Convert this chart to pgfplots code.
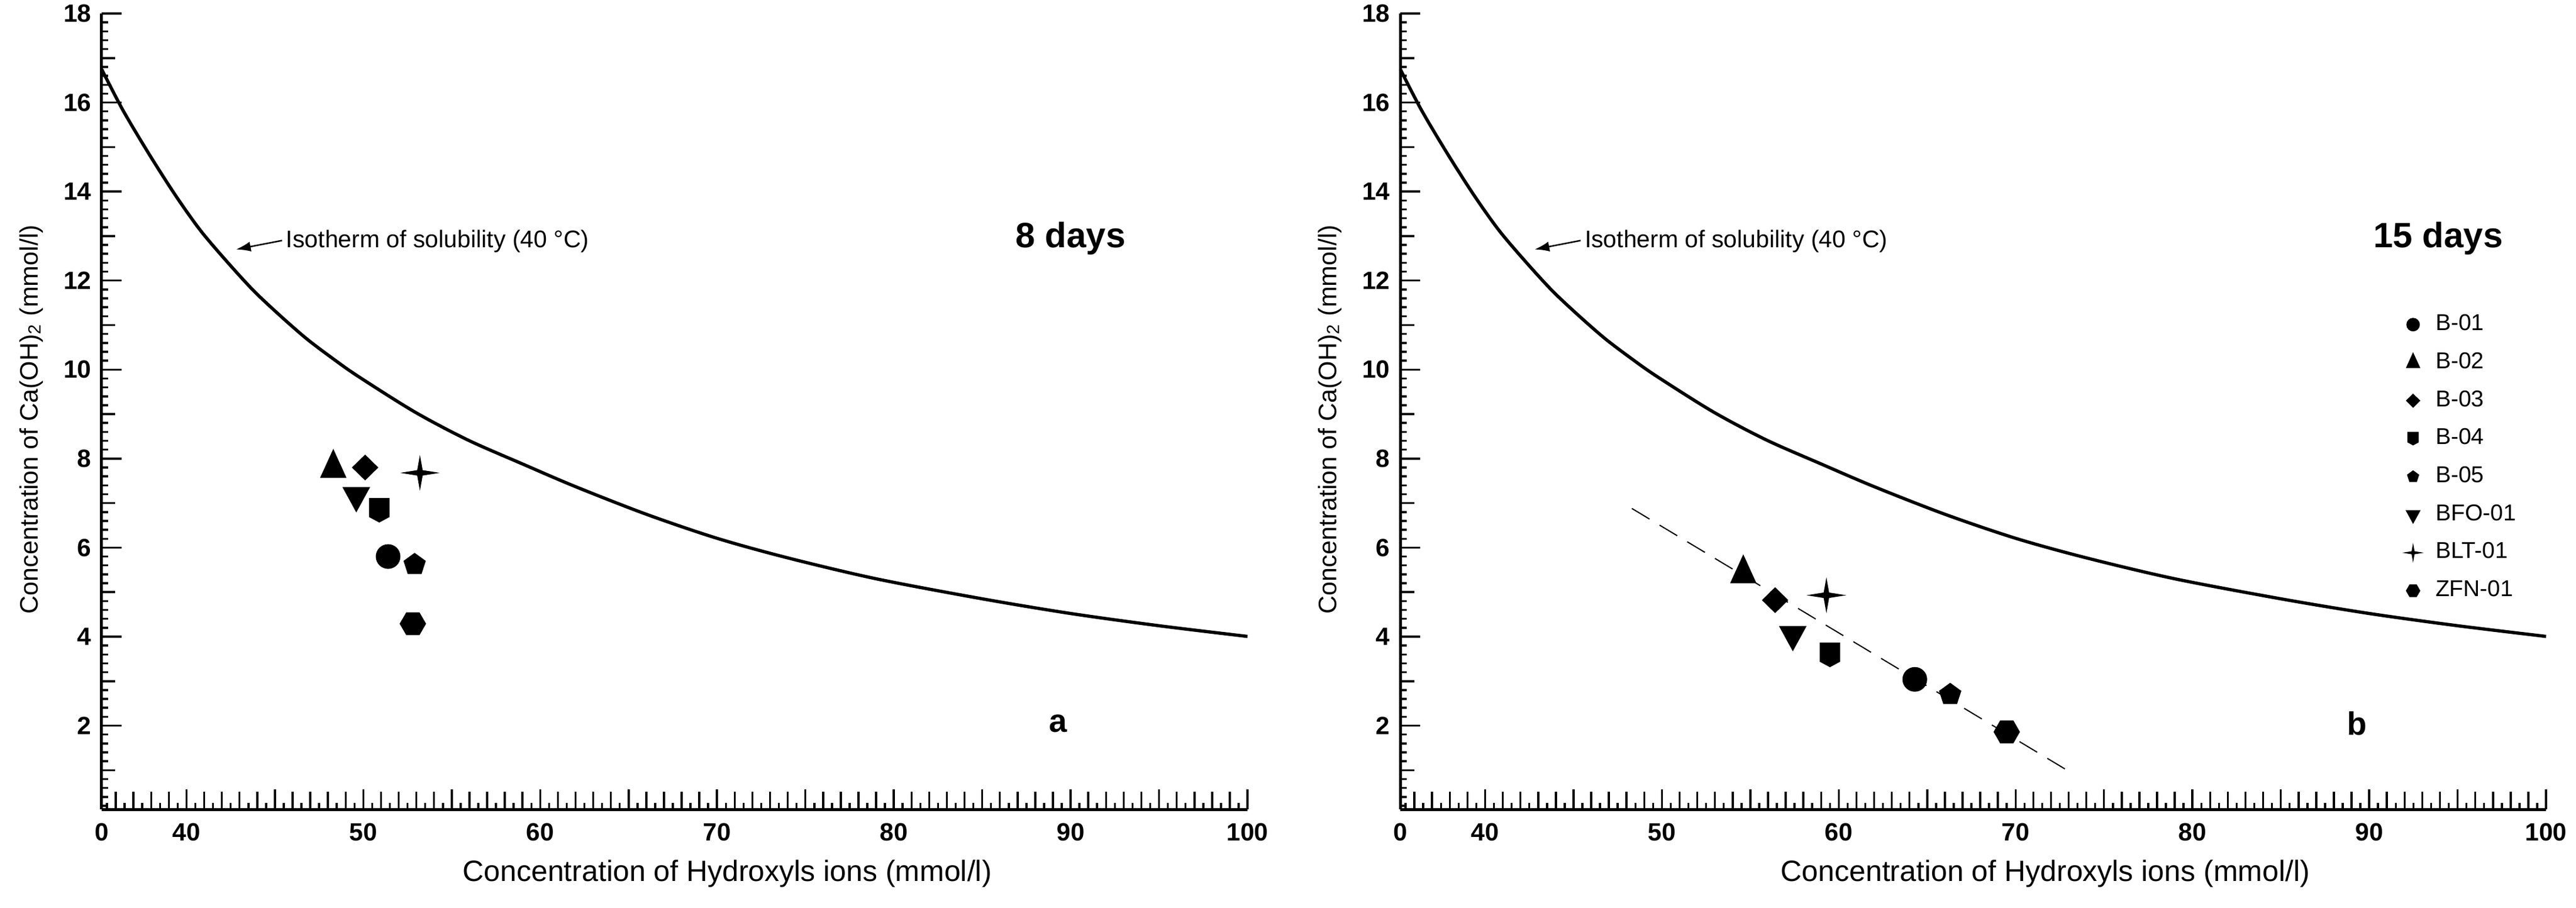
\documentclass[border=0pt]{standalone}
\usepackage{fontspec}
\setmainfont{Liberation Sans}
\usepackage{pgfplots}
\pgfplotsset{compat=1.18}
\usetikzlibrary{arrows.meta}

\newcommand{\mr}{\pgfplotmarksize}
\pgfdeclareplotmark{dot}{\pgfpathcircle{\pgfpointorigin}{\mr}\pgfusepathqfill}
\pgfdeclareplotmark{tri}{%
  \pgfpathmoveto{\pgfqpoint{0pt}{1.55\mr}}%
  \pgfpathlineto{\pgfqpoint{1.07\mr}{-0.8\mr}}%
  \pgfpathlineto{\pgfqpoint{-1.07\mr}{-0.8\mr}}%
  \pgfpathclose\pgfusepathqfill}
\pgfdeclareplotmark{dtri}{%
  \pgfpathmoveto{\pgfqpoint{0pt}{-1.37\mr}}%
  \pgfpathlineto{\pgfqpoint{1.12\mr}{0.68\mr}}%
  \pgfpathlineto{\pgfqpoint{-1.12\mr}{0.68\mr}}%
  \pgfpathclose\pgfusepathqfill}
\pgfdeclareplotmark{dia}{%
  \pgfpathmoveto{\pgfqpoint{0pt}{1.05\mr}}%
  \pgfpathlineto{\pgfqpoint{1.07\mr}{0pt}}%
  \pgfpathlineto{\pgfqpoint{0pt}{-1.05\mr}}%
  \pgfpathlineto{\pgfqpoint{-1.07\mr}{0pt}}%
  \pgfpathclose\pgfusepathqfill}
\pgfdeclareplotmark{spark}{%
  \pgfpathmoveto{\pgfqpoint{0pt}{1.45\mr}}%
  \pgfpathlineto{\pgfqpoint{0.22\mr}{0.22\mr}}%
  \pgfpathlineto{\pgfqpoint{1.6\mr}{0pt}}%
  \pgfpathlineto{\pgfqpoint{0.22\mr}{-0.22\mr}}%
  \pgfpathlineto{\pgfqpoint{0pt}{-1.45\mr}}%
  \pgfpathlineto{\pgfqpoint{-0.22\mr}{-0.22\mr}}%
  \pgfpathlineto{\pgfqpoint{-1.6\mr}{0pt}}%
  \pgfpathlineto{\pgfqpoint{-0.22\mr}{0.22\mr}}%
  \pgfpathclose\pgfusepathqfill}
\pgfdeclareplotmark{shield}{%
  \pgfpathmoveto{\pgfqpoint{-0.83\mr}{1\mr}}%
  \pgfpathlineto{\pgfqpoint{0.83\mr}{1\mr}}%
  \pgfpathlineto{\pgfqpoint{0.83\mr}{-0.55\mr}}%
  \pgfpathlineto{\pgfqpoint{0pt}{-1\mr}}%
  \pgfpathlineto{\pgfqpoint{-0.83\mr}{-0.55\mr}}%
  \pgfpathclose\pgfusepathqfill}
\pgfdeclareplotmark{pent}{%
  \pgfpathmoveto{\pgfqpoint{0pt}{0.95\mr}}%
  \pgfpathlineto{\pgfqpoint{-0.9035\mr}{0.2936\mr}}%
  \pgfpathlineto{\pgfqpoint{-0.5584\mr}{-0.7686\mr}}%
  \pgfpathlineto{\pgfqpoint{0.5584\mr}{-0.7686\mr}}%
  \pgfpathlineto{\pgfqpoint{0.9035\mr}{0.2936\mr}}%
  \pgfpathclose\pgfusepathqfill}
\pgfdeclareplotmark{hexa}{%
  \pgfpathmoveto{\pgfqpoint{1.07\mr}{0pt}}%
  \pgfpathlineto{\pgfqpoint{0.535\mr}{0.927\mr}}%
  \pgfpathlineto{\pgfqpoint{-0.535\mr}{0.927\mr}}%
  \pgfpathlineto{\pgfqpoint{-1.07\mr}{0pt}}%
  \pgfpathlineto{\pgfqpoint{-0.535\mr}{-0.927\mr}}%
  \pgfpathlineto{\pgfqpoint{0.535\mr}{-0.927\mr}}%
  \pgfpathclose\pgfusepathqfill}

\pgfplotstableread{
x y
35.2 16.75
36.4 15.83
37.9 14.83
39.4 13.90
40.8 13.12
42.3 12.42
43.8 11.77
45.3 11.21
46.8 10.69
48.3 10.24
49.7 9.85
52.9 9.05
55.9 8.42
59.0 7.88
62.0 7.37
66.0 6.75
70.0 6.21
74.0 5.77
79.0 5.30
85.0 4.85
90.0 4.52
95.0 4.245
100.0 4.005
}\isotherm

\pgfplotsset{
  panel/.style={
    width=390pt, height=271pt, scale only axis,
    xmin=35.2, xmax=100, ymin=0.12, ymax=18,
    axis lines=left,
    axis line style={-, line width=1pt},
    tick align=inside,
    every tick/.style={black, line width=0.7pt},
    major tick length=6.8pt,
    minor tick length=2.2pt,
    xtick={35.2,40,45,50,55,60,65,70,75,80,85,90,95,100},
    xticklabels={0,40,,50,,60,,70,,80,,90,,100},
    minor xtick={35.5,36,...,99.5},
    extra x ticks={36,37,...,99},
    extra x tick style={major tick length=6pt, xticklabel={}},
    ytick={2,4,...,18},
    minor ytick={0.2,0.4,...,17.8},
    extra y ticks={1,3,...,17},
    extra y tick style={major tick length=4.7pt, yticklabel={}},
    /pgf/number format/assume math mode=true,
    xticklabel style={font=\bfseries\fontsize{8.5}{10}\selectfont, yshift=-1.2pt},
    yticklabel style={font=\bfseries\fontsize{8.5}{10}\selectfont},
    every axis y label/.style={at={(axis description cs:-0.0615,0.49)}, rotate=90, anchor=center},
    ylabel style={font=\fontsize{8.6}{10}\selectfont},
    xlabel style={font=\fontsize{9.6}{11}\selectfont},
    ylabel={Concentration of Ca(OH)\textsubscript{2} (mmol/l)},
    xlabel={Concentration of Hydroxyls ions (mmol/l)},
    clip=false,
  },
  pt/.style={only marks, black, fill=black, mark=#1, mark size=4.2pt},
}

\begin{document}
\begin{tikzpicture}
\path[use as bounding box] (-34.6pt,-33.4pt) rectangle (842.2pt,275.6pt);

% ---------- panel a: 8 days ----------
\begin{axis}[panel, at={(0pt,0pt)}, anchor=south west,
  every axis x label/.style={at={(axis description cs:0.546,-0.0805)}, anchor=center}]
\addplot[black, line width=1.1pt, smooth, forget plot] table {\isotherm};
\addplot[pt=dot]    coordinates {(51.4,5.80)};
\addplot[pt=tri]    coordinates {(48.3,7.79)};
\addplot[pt=dia]    coordinates {(50.1,7.80)};
\addplot[pt=shield] coordinates {(50.9,6.84)};
\addplot[pt=pent]   coordinates {(52.9,5.62)};
\addplot[pt=dtri]   coordinates {(49.6,7.17)};
\addplot[pt=spark]  coordinates {(53.2,7.68)};
\addplot[pt=hexa]   coordinates {(52.8,4.29)};
\draw[-{Latex[length=5pt,width=3.4pt]}, line width=0.5pt] (axis cs:45.4,12.9) -- (axis cs:42.8,12.7);
\node[anchor=west, inner sep=0pt, font=\fontsize{8.2}{10}\selectfont] at (axis cs:45.6,12.88) {Isotherm of solubility (40 °C)};
\node[font=\bfseries\fontsize{12}{14}\selectfont] at (axis cs:90,12.95) {8 days};
\node[font=\bfseries\fontsize{11}{13}\selectfont] at (axis cs:89.3,2.05) {a};
\end{axis}

% ---------- panel b: 15 days ----------
\begin{axis}[panel, at={(442pt,0pt)}, anchor=south west,
  every axis x label/.style={at={(axis description cs:0.563,-0.0805)}, anchor=center},
  legend image code/.code={\draw[#1, mark size=2.3pt] plot coordinates {(0pt,0pt)};},
  legend style={draw=none, fill=none, at={(axis description cs:0.874,0.630)}, anchor=north west,
    font=\fontsize{7.8}{9}\selectfont, row sep=2pt, column sep=2pt, inner sep=0pt},
  legend cell align=left]
\addplot[black, line width=1.1pt, smooth, forget plot] table {\isotherm};
\addplot[black, line width=0.4pt, dash pattern=on 7pt off 4pt, forget plot] coordinates {(48.3,6.88) (73.2,0.93)};
\addplot[pt=dot]    coordinates {(64.3,3.04)};
\addlegendentry{B-01}
\addplot[pt=tri]    coordinates {(54.6,5.42)};
\addlegendentry{B-02}
\addplot[pt=dia]    coordinates {(56.4,4.82)};
\addlegendentry{B-03}
\addplot[pt=shield] coordinates {(59.5,3.59)};
\addlegendentry{B-04}
\addplot[pt=pent]   coordinates {(66.3,2.70)};
\addlegendentry{B-05}
\addplot[pt=dtri]   coordinates {(57.4,4.05)};
\addlegendentry{BFO-01}
\addplot[pt=spark]  coordinates {(59.3,4.93)};
\addlegendentry{BLT-01}
\addplot[pt=hexa]   coordinates {(69.5,1.86)};
\addlegendentry{ZFN-01}
\draw[-{Latex[length=5pt,width=3.4pt]}, line width=0.5pt] (axis cs:45.4,12.9) -- (axis cs:42.8,12.7);
\node[anchor=west, inner sep=0pt, font=\fontsize{8.2}{10}\selectfont] at (axis cs:45.6,12.88) {Isotherm of solubility (40 °C)};
\node[font=\bfseries\fontsize{12}{14}\selectfont] at (axis cs:93.9,12.95) {15 days};
\node[font=\bfseries\fontsize{11}{13}\selectfont] at (axis cs:89.3,2.05) {b};
\end{axis}
\end{tikzpicture}
\end{document}
